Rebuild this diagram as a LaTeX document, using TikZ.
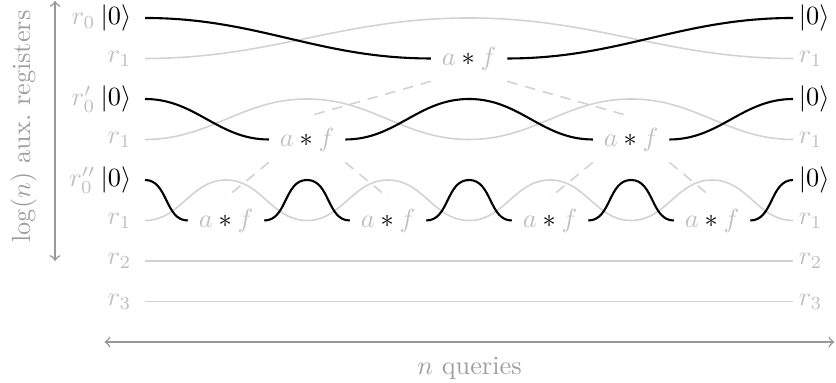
\documentclass[tikz,border=0pt]{standalone}
\usepackage{amsmath,amssymb}
\usepackage{xcolor}
\usetikzlibrary{arrows,positioning,calc}

\newcommand{\reg}[1]{\textcolor{gray!50}{$#1$}}
\newcommand{\conv}{$\textcolor{gray!50}{a} * \textcolor{gray!50}{f}$}

\begin{document}
\begin{tikzpicture}[x=1.083cm, y=1.083cm,
    wire/.style={draw=gray!35, semithick},
    qwire/.style={draw=black, thick},
    op/.style={inner xsep=4pt, minimum height=17pt},
    lin/.style={anchor=east, inner xsep=5pt},
    lout/.style={anchor=west, inner xsep=2pt},
    dep/.style={draw=gray!35, semithick, dash pattern=on 4pt off 3pt},
    arr/.style={<->, draw=gray!80, semithick},
    axis/.style={text=gray!75}
]
\useasboundingbox (-1.79,-4.506) rectangle (8.53,0.222);

% --- Register labels, left ---
\node[lin] (i0) at (0,0) {\reg{r_0}\hspace{2pt}$|0\rangle$};
\node[lin] (i1) at (0,-0.5) {\reg{r_1}};
\node[lin] (j0) at (0,-1) {\reg{r'_0}\hspace{2pt}$|0\rangle$};
\node[lin] (j1) at (0,-1.5) {\reg{r_1}};
\node[lin] (k0) at (0,-2) {\reg{r''_0}\hspace{2pt}$|0\rangle$};
\node[lin] (k1) at (0,-2.5) {\reg{r_1}};
\node[lin] (l2) at (0,-3) {\reg{r_2}};
\node[lin] (l3) at (0,-3.5) {\reg{r_3}};

% --- Register labels, right ---
\node[lout] (o0) at (8,0) {$|0\rangle$};
\node[lout] (o1) at (8,-0.5) {\reg{r_1}};
\node[lout] (p0) at (8,-1) {$|0\rangle$};
\node[lout] (p1) at (8,-1.5) {\reg{r_1}};
\node[lout] (q0) at (8,-2) {$|0\rangle$};
\node[lout] (q1) at (8,-2.5) {\reg{r_1}};
\node[lout] (m2) at (8,-3) {\reg{r_2}};
\node[lout] (m3) at (8,-3.5) {\reg{r_3}};

% --- Convolution steps ---
\node[op] (f1) at (4,-0.5) {\conv};
\node[op] (f2) at (2,-1.5) {\conv};
\node[op] (f3) at (6,-1.5) {\conv};
\node[op] (f4) at (1,-2.5) {\conv};
\node[op] (f5) at (3,-2.5) {\conv};
\node[op] (f6) at (5,-2.5) {\conv};
\node[op] (f7) at (7,-2.5) {\conv};

% --- Idle wires ---
\draw[wire, out=0, in=180] (i1.east) to (4,0) to (o1.west);
\draw[wire, out=0, in=180] (j1.east) to (2,-1) to (4,-1.5) to (6,-1) to (p1.west);
\draw[wire, out=0, in=180] (k1.east) to (1,-2) to (2,-2.5) to (3,-2) to (4,-2.5)
    to (5,-2) to (6,-2.5) to (7,-2) to (q1.west);
\draw[wire] (l2.east) -- (m2.west);
\draw[wire] (l3.east) -- (m3.west);

% --- Active wires ---
\draw[qwire, out=0, in=180] (i0.east) to (f1.west);
\draw[qwire, out=0, in=180] (f1.east) to (o0.west);
\draw[qwire, out=0, in=180] (j0.east) to (f2.west);
\draw[qwire, out=0, in=180] (f2.east) to (4,-1) to (f3.west);
\draw[qwire, out=0, in=180] (f3.east) to (p0.west);
\draw[qwire, out=0, in=180] (k0.east) to (f4.west);
\draw[qwire, out=0, in=180] (f4.east) to (2,-2) to (f5.west);
\draw[qwire, out=0, in=180] (f5.east) to (4,-2) to (f6.west);
\draw[qwire, out=0, in=180] (f6.east) to (6,-2) to (f7.west);
\draw[qwire, out=0, in=180] (f7.east) to (q0.west);

% --- Dependencies ---
\draw[dep] (f1.south west) -- (f2.north);
\draw[dep] (f1.south east) -- (f3.north);
\draw[dep] (f2.south west) -- (f4.north);
\draw[dep] (f2.south east) -- (f5.north);
\draw[dep] (f3.south west) -- (f6.north);
\draw[dep] (f3.south east) -- (f7.north);

% --- Axes ---
\coordinate (vt) at (-1.11,0.21);
\coordinate (vb) at (-1.11,-3);
\draw[arr] (vt) -- (vb);
\node[axis, rotate=90] (regs) at (-1.5,-1.34) {$\log(n)$ aux.\ registers};
\coordinate (hl) at (-0.5,-4);
\coordinate (hr) at (8.51,-4);
\draw[arr] (hl) -- (hr) node[axis, midway, below=2pt] (qry) {$n$ queries};
\end{tikzpicture}
\end{document}
